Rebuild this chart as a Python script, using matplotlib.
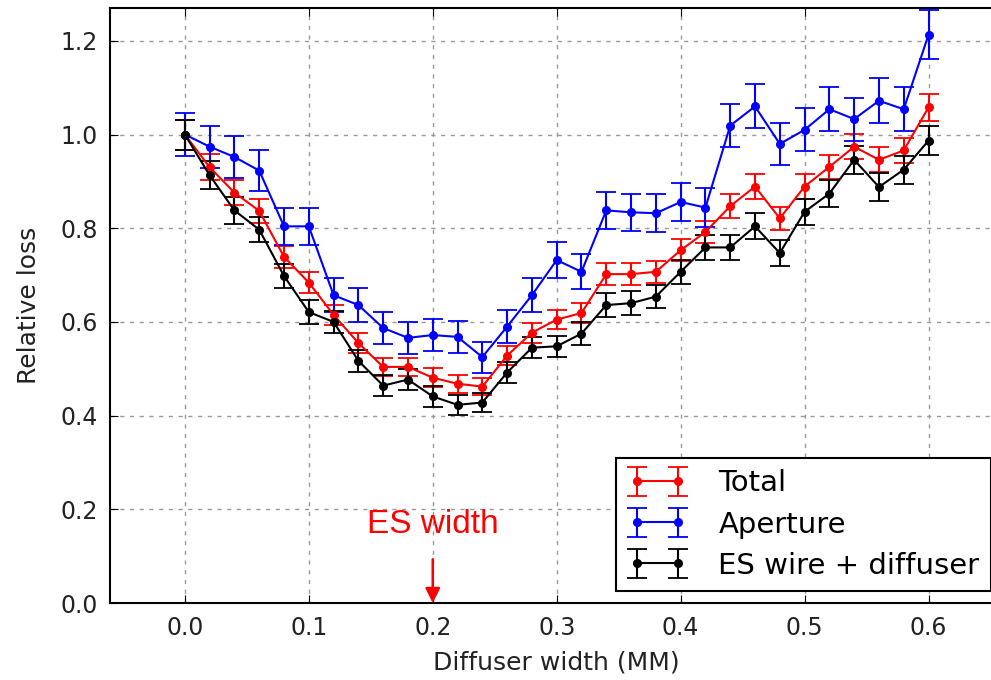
import matplotlib
matplotlib.use("Agg")
import matplotlib.pyplot as plt

# diffuser widths (mm)
width = [0.00, 0.02, 0.04, 0.06, 0.08, 0.10, 0.12, 0.14, 0.16, 0.18, 0.20,
         0.22, 0.24, 0.26, 0.28, 0.30, 0.32, 0.34, 0.36, 0.38, 0.40,
         0.42, 0.44, 0.46, 0.48, 0.50, 0.52, 0.54, 0.56, 0.58, 0.60]

total = [1.00, 0.93, 0.876, 0.837, 0.739, 0.684, 0.615, 0.555, 0.504, 0.504, 0.481,
         0.468, 0.462, 0.528, 0.577, 0.605, 0.619, 0.702, 0.702, 0.707, 0.753,
         0.792, 0.847, 0.889, 0.821, 0.889, 0.931, 0.974, 0.946, 0.966, 1.058]
total_err = [0.032, 0.028, 0.027, 0.026, 0.024, 0.023, 0.022, 0.021, 0.020, 0.020, 0.020,
             0.019, 0.019, 0.020, 0.021, 0.021, 0.022, 0.023, 0.023, 0.023, 0.024,
             0.024, 0.025, 0.026, 0.025, 0.026, 0.026, 0.027, 0.027, 0.027, 0.029]

aperture = [1.00, 0.974, 0.952, 0.923, 0.804, 0.804, 0.657, 0.636, 0.587, 0.566, 0.572,
            0.568, 0.525, 0.590, 0.657, 0.732, 0.707, 0.838, 0.834, 0.832, 0.856,
            0.844, 1.019, 1.060, 0.980, 1.010, 1.054, 1.033, 1.072, 1.054, 1.213]
aperture_err = [0.045, 0.045, 0.045, 0.044, 0.040, 0.040, 0.036, 0.036, 0.035, 0.034, 0.034,
                0.034, 0.033, 0.035, 0.036, 0.038, 0.037, 0.040, 0.040, 0.040, 0.041,
                0.041, 0.046, 0.047, 0.045, 0.046, 0.047, 0.046, 0.048, 0.047, 0.052]

es_wire = [1.00, 0.913, 0.838, 0.797, 0.698, 0.621, 0.600, 0.517, 0.464, 0.477, 0.441,
           0.423, 0.428, 0.492, 0.545, 0.548, 0.575, 0.636, 0.640, 0.654, 0.707,
           0.759, 0.759, 0.804, 0.747, 0.835, 0.874, 0.946, 0.888, 0.925, 0.987]
es_wire_err = [0.032, 0.030, 0.028, 0.027, 0.026, 0.025, 0.024, 0.023, 0.022, 0.022, 0.022,
               0.021, 0.021, 0.022, 0.023, 0.023, 0.024, 0.025, 0.025, 0.025, 0.026,
               0.027, 0.027, 0.028, 0.027, 0.028, 0.029, 0.030, 0.029, 0.030, 0.031]

plt.rcParams['font.family'] = 'DejaVu Sans'
fig = plt.figure(figsize=(9.91, 6.8), dpi=100)
# the right spine sits just past the picture edge, as in the reference
ax = fig.add_axes([0.1115, 0.1132, 0.9005, 0.875])

kw = dict(fmt='-o', ms=5.5, lw=1.5, elinewidth=1.5, capsize=7, capthick=1.3)
ax.errorbar(width, total, yerr=total_err, color='red', label='Total', **kw)
ax.errorbar(width, aperture, yerr=aperture_err, color='blue', label='Aperture', **kw)
ax.errorbar(width, es_wire, yerr=es_wire_err, color='black', label='ES wire + diffuser', **kw)

ax.set_xlim(-0.06, 0.66)
ax.set_ylim(0, 1.27)
ax.set_xticks([0.0, 0.1, 0.2, 0.3, 0.4, 0.5, 0.6])
ax.set_yticks([0.0, 0.2, 0.4, 0.6, 0.8, 1.0, 1.2])
ax.grid(True, color='#999999', linestyle=(0, (3, 4)), lw=1)
ax.tick_params(direction='in', top=True, right=True, length=6, labelsize=17,
               labelcolor='#222222', pad=9)
for s in ax.spines.values():
    s.set_linewidth(1.5)

ax.set_xlabel('Diffuser width (MM)', fontsize=18, color='#222222', labelpad=8)
ax.set_ylabel('Relative loss', fontsize=18, color='#222222', labelpad=14)

ax.annotate('ES width', xy=(0.2, 0.0), xytext=(0.2, 0.135), color='red',
            fontsize=24, family='Liberation Sans', ha='center', va='bottom',
            arrowprops=dict(arrowstyle='-|>', color='red', lw=1.8, mutation_scale=22,
                            shrinkA=12, shrinkB=0))

leg = ax.legend(loc='lower right', fontsize=21, fancybox=False, framealpha=1,
                edgecolor='black', borderaxespad=0.4, handlelength=2.0,
                handletextpad=1.1, numpoints=2, labelspacing=0.45, borderpad=0.4)
leg.get_frame().set_linewidth(1.5)

fig.savefig('out.png', dpi=100)
